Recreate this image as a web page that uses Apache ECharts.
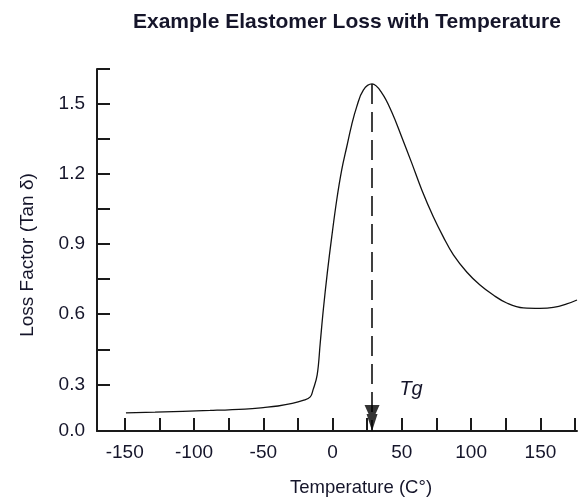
<!DOCTYPE html>
<html><head><meta charset="utf-8">
<script src="https://cdn.jsdelivr.net/npm/echarts@6/dist/echarts.min.js"></script>
<style>html,body{margin:0;padding:0;background:#fff}#c{width:578px;height:502px}</style>
</head><body><div id="c"></div>
<script>
const temps = [-149.1, -128.1, -88.4, -63.2, -48.7, -39.4, -29.1, -21.3, -16.1, -14.1, -11.1, -8.9, -6.7, -3.8, -0.6, 3.0, 6.6, 10.2, 13.8, 17.4, 22.2, 28.5, 35.5, 42.7, 49.9, 57.1, 64.4, 72.7, 79.9, 87.2, 96.8, 106.4, 116.0, 125.7, 137.7, 149.7, 159.3, 169.0, 176.4];
const loss = [0.178, 0.181, 0.188, 0.194, 0.201, 0.207, 0.218, 0.231, 0.246, 0.276, 0.340, 0.477, 0.618, 0.777, 0.931, 1.089, 1.218, 1.316, 1.411, 1.488, 1.560, 1.586, 1.548, 1.466, 1.359, 1.248, 1.132, 1.017, 0.931, 0.854, 0.781, 0.725, 0.682, 0.648, 0.627, 0.625, 0.629, 0.644, 0.661];
const xTickValues = [-150, -125, -100, -75, -50, -25, 0, 25, 50, 75, 100, 125, 150, 175];
const xLabelValues = [-150, -100, -50, 0, 50, 100, 150];
const yTickValues = [0.3, 0.45, 0.6, 0.75, 0.9, 1.05, 1.2, 1.35, 1.5, 1.65];
const yLabelValues = [0.1, 0.3, 0.6, 0.9, 1.2, 1.5];
const yLabelTexts = ['0.0', '0.3', '0.6', '0.9', '1.2', '1.5'];
const xMin = -170, xMax = 176.4, yMin = 0.1, yMax = 1.65;

const peakLoss = Math.max(...loss);
const tg = temps[loss.indexOf(peakLoss)];

const FONT = "'Liberation Sans', Arial, sans-serif";
const TXT = '#15152a';
const AX = '#1a1a1a';

const chart = echarts.init(document.getElementById('c'), null, {renderer: 'canvas'});
chart.setOption({
  animation: false,
  backgroundColor: '#fff',
  title: {
    text: 'Example Elastomer Loss with Temperature',
    left: 133, top: 12, padding: 0,
    textStyle: {fontFamily: FONT, fontSize: 21, fontWeight: 'bold', color: TXT}
  },
  grid: {left: 97, top: 69, width: 480, height: 362, containLabel: false},
  xAxis: {
    type: 'value', min: xMin, max: xMax,
    name: 'Temperature (C°)', nameLocation: 'middle', nameGap: 47,
    nameTextStyle: {fontFamily: FONT, fontSize: 18.5, color: TXT, padding: [0, 0, 0, 48]},
    axisLine: {show: true, onZero: false, lineStyle: {color: AX, width: 2}},
    axisTick: {show: true, inside: true, length: 13, lineStyle: {color: AX, width: 2}, customValues: xTickValues},
    axisLabel: {fontFamily: FONT, fontSize: 19, color: TXT, margin: 12, customValues: xLabelValues, formatter: v => String(v)},
    splitLine: {show: false}
  },
  yAxis: {
    type: 'value', min: yMin, max: yMax,
    name: 'Loss Factor (Tan δ)', nameLocation: 'middle', nameGap: 60,
    nameTextStyle: {fontFamily: FONT, fontSize: 19, color: TXT, padding: [0, 10, 0, 0]},
    axisLine: {show: true, onZero: false, lineStyle: {color: AX, width: 2}},
    axisTick: {show: true, inside: true, length: 13, lineStyle: {color: AX, width: 2}, customValues: yTickValues},
    axisLabel: {
      fontFamily: FONT, fontSize: 19, color: TXT, margin: 12, customValues: yLabelValues,
      formatter: v => { const i = yLabelValues.findIndex(u => Math.abs(u - v) < 1e-6); return i >= 0 ? yLabelTexts[i] : ''; }
    },
    splitLine: {show: false}
  },
  series: [
    {
      type: 'line',
      data: temps.map((t, i) => [t, loss[i]]),
      smooth: 0.4,
      symbol: 'none', clip: true,
      lineStyle: {color: '#111', width: 1.3},
      markLine: {
        silent: true, symbol: ['none', 'none'],
        label: {show: false},
        lineStyle: {color: '#111', width: 1.6, type: [20, 8]},
        data: [[{coord: [tg, peakLoss]}, {coord: [tg, yMin]}]]
      },
      markPoint: {
        silent: true, symbol: 'circle', symbolSize: 0,
        data: [{coord: [tg, 0.28], value: 'Tg'}],
        label: {show: true, formatter: 'Tg', offset: [39, 0], fontFamily: FONT, fontStyle: 'italic', fontSize: 20, color: TXT}
      }
    },
    {
      type: 'scatter',
      data: [[tg, yMin]],
      symbol: 'path://M0,0 L15,0 L11,9 L13,9 L7.5,26 L2,9 L4,9 Z',
      symbolSize: [15, 26], symbolOffset: [0, '-50%'],
      itemStyle: {color: '#000'}, z: 5, silent: true
    }
  ]
});
</script>
</body></html>
